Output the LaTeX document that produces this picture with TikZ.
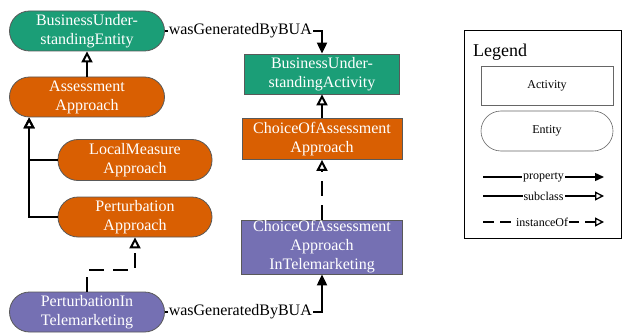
\documentclass[tikz,border=0pt]{standalone}
\usepackage{fontspec}
\setmainfont{Liberation Serif}
\usetikzlibrary{arrows.meta}
\definecolor{entgreen}{HTML}{1B9E77}
\definecolor{apporange}{HTML}{D95F02}
\definecolor{telepurple}{HTML}{7570B3}
\begin{document}
\begin{tikzpicture}[x=1pt,y=-1pt,
  box/.style={draw=black!65, line width=0.8pt, text=white, align=center,
    font=\fontsize{16}{19}\selectfont, inner sep=0pt},
  activity/.style={box, rectangle},
  entity/.style={box, rectangle, rounded corners=20pt},
  prop/.style={line width=2pt, -{Triangle[length=11pt,width=10pt]}},
  subcl/.style={line width=2pt, -{Triangle[open,length=11pt,width=11pt]}},
  inst/.style={subcl, dash pattern=on 15pt off 9pt},
  elabel/.style={fill=white, inner sep=1pt, font=\fontsize{16}{19}\selectfont},
  legtext/.style={font=\fontsize{12}{14}\selectfont},
  legbox/.style={draw=black!60, line width=0.6pt, legtext, minimum width=132pt, minimum height=39pt, inner sep=0pt},
  leglabel/.style={fill=white, inner sep=1pt, legtext},
  legprop/.style={line width=1.3pt, -{Triangle[length=9pt,width=8pt]}},
  legsub/.style={line width=1.3pt, -{Triangle[open,length=9pt,width=9pt]}},
  leginst/.style={legsub, dash pattern=on 11pt off 6pt}
]
\useasboundingbox (0,0) rectangle (623,334);

% entities (rounded) and activities (rectangles)
\node[entity, fill=entgreen, minimum width=155pt, minimum height=40pt] (bue) at (87,31) {BusinessUnder-\\standingEntity};
\node[entity, fill=apporange, minimum width=155pt, minimum height=40pt] (aa) at (87,97) {Assessment\\Approach};
\node[entity, fill=apporange, minimum width=154pt, minimum height=41pt] (lma) at (135,160) {LocalMeasure\\Approach};
\node[entity, fill=apporange, minimum width=154pt, minimum height=40pt] (pa) at (135,217) {Perturbation\\Approach};
\node[entity, fill=telepurple, minimum width=155pt, minimum height=40pt] (pit) at (87,312) {PerturbationIn\\Telemarketing};

\node[activity, fill=entgreen, minimum width=155pt, minimum height=40pt] (bua) at (322,74) {BusinessUnder-\\standingActivity};
\node[activity, fill=apporange, minimum width=160pt, minimum height=41pt] (coa) at (322,139) {ChoiceOfAssessment\\Approach};
\node[activity, fill=telepurple, minimum width=161pt, minimum height=54pt] (coit) at (322,247) {ChoiceOfAssessment\\Approach\\InTelemarketing};

% connectors
\coordinate (aafoot) at ([xshift=20pt]aa.south west);
\draw[prop] (bue.east) -| node[elabel, pos=0.24] {wasGeneratedByBUA} (bua.north);
\draw[prop] (pit.east) -| node[elabel, pos=0.24] {wasGeneratedByBUA} (coit.south);
\draw[subcl] (aa.north) -- (bue.south);
\draw[subcl] (lma.west) -| (aafoot);
\draw[subcl] (pa.west) -| (aafoot);
\draw[subcl] (coa.north) -- (bua.south);
\draw[inst] (coit.north) -- (coa.south);
\draw[inst] (pit.north) -- ++(0,-22) -| (pa.south);

% legend
\node[draw, line width=1.2pt, minimum width=157pt, minimum height=208pt, anchor=north west, inner sep=0pt] (legend) at (464,30) {};
\node[anchor=west, font=\fontsize{18}{21}\selectfont, inner sep=0pt] (legtitle) at (473,52) {Legend};
\node[legbox] (legact) at (547,85.5) {Activity};
\node[legbox, rounded corners=20pt, minimum height=40pt] (legent) at (547,131) {Entity};
\coordinate (lpa) at (483,177); \coordinate (lpb) at (604,177);
\coordinate (lsa) at (483,196); \coordinate (lsb) at (604,196);
\coordinate (lia) at (483,222); \coordinate (lib) at (604,222);
\draw[legprop] (lpa) -- node[leglabel] {property} (lpb);
\draw[legsub] (lsa) -- node[leglabel] {subclass} (lsb);
\draw[leginst] (lia) -- node[leglabel, pos=0.48] {\,instanceOf} (lib);
\end{tikzpicture}
\end{document}
